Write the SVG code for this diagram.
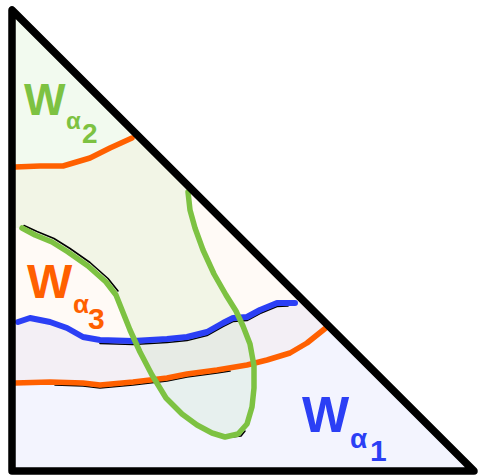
<svg xmlns="http://www.w3.org/2000/svg" width="478" height="475" viewBox="0 0 478 475">
<style>
.ln{fill:none;stroke-linecap:round;stroke-linejoin:round}
.g{stroke:#7dc242;stroke-width:5.5}
.o{stroke:#ff6000;stroke-width:5.5}
.b{stroke:#2b3ff5;stroke-width:6}
.k{stroke:#000;stroke-width:1.6}
.lbl{font-family:"Liberation Sans",Arial,sans-serif;font-weight:bold}
</style>
<defs>
<clipPath id="tri"><polygon points="12,10 12,471 474,471"/></clipPath>
</defs>
<rect width="478" height="475" fill="#fff"/>
<g id="regions" clip-path="url(#tri)">
<path id="region-blue" fill="#3344ee" fill-opacity="0.06" d="M0,322 L18,322 L30,318 L50,322 L67,328 L83,337 L100,340 L133,341 L167,339 L187,337 L207,332 L223,323 L233,318 L247,317 L260,310 L277,303 L297,303 L320,280 L480,280 L480,480 L0,480 Z"/>
<path id="region-orange" fill="#ff9a55" fill-opacity="0.05" d="M0,167 L15,167 L40,166 L63,166 L90,158 L110,148 L132,138 L200,60 L480,60 L480,300 L340,320 L327,327 L307,343 L290,353 L267,360 L247,365 L217,370 L187,374 L167,378 L133,382 L100,385 L83,383 L50,382 L15,383 L0,383 Z"/>
<path id="region-green" fill="#74c64a" fill-opacity="0.09" d="M12,0 L196,178 L188,192 L190,210 L195,228 L203,250 L214,274 L226,295 L236,311 L243,326 L250,344 L254,366 L254,388 L252,407 L247,424 L238,434 L225,437 L212,433 L197,425 L182,414 L166,398 L152,375 L140,352 L130,330 L122,310 L116,295 L106,282 L88,266 L68,252 L52,242 L35,235 L22,228 L0,228 Z"/>
</g>
<g id="connectors">
<path class="ln k" d="M24,225.5 L37,231.5 L54,238.5 L70,248.5 L90,262.5 L108,278.5 L118,291"/>
<path class="ln k" d="M100,343.5 L133,344.5 L167,342.5 L187,340.5 L207,335.5 L223,326.5 L233,321.5 L247,320.5 L260,313.5 L277,306.5 L288,306"/>
<path class="ln k" d="M55,385 L83,386 L100,388 L133,385 L167,381 L187,377 L217,373 L230,371"/>
<path class="ln k" d="M232,437 L241,436 L245,431" stroke-width="2.5"/>
<path id="orange-upper" class="ln o" d="M15,167 L40,166 L63,166 L90,158 L110,148 L132,138"/>
<path id="orange-lower" class="ln o" d="M15,383 L50,382 L83,383 L100,385 L133,382 L167,378 L187,374 L217,370 L247,365 L267,360 L290,353 L307,343 L327,327"/>
<path id="blue-line" class="ln b" d="M18,322 L30,318 L50,322 L67,328 L83,337 L100,340 L133,341 L167,339 L187,337 L207,332 L223,323 L233,318 L247,317 L260,310 L277,303 L295,303"/>
<path id="green-curve" class="ln g" d="M22,228 L35,235 L52,242 L68,252 L88,266 L106,282 L116,295 L122,310 L130,330 L140,352 L152,375 L166,398 L182,414 L197,425 L212,433 L225,437 L238,434 L247,424 L252,407 L254,388 L254,366 L250,344 L243,326 L236,311 L226,295 L214,274 L203,250 L195,228 L190,210 L188,192"/>
</g>
<g id="triangle">
<polygon points="12,10 12,471 474,471" fill="none" stroke="#000" stroke-width="7.5" stroke-linejoin="round"/>
</g>
<g id="label-w2">
<text class="lbl" fill="#7dc242"><tspan x="24" y="115" font-size="44">W</tspan><tspan x="66" y="129" font-size="24">α</tspan><tspan x="82" y="143" font-size="28">2</tspan></text>
</g>
<g id="label-w3">
<text class="lbl" fill="#ff6000"><tspan x="27" y="298" font-size="48">W</tspan><tspan x="73" y="313" font-size="26">α</tspan><tspan x="88" y="329" font-size="30">3</tspan></text>
</g>
<g id="label-w1">
<text class="lbl" fill="#2b3ff5"><tspan x="302" y="432" font-size="50">W</tspan><tspan x="350" y="448" font-size="28">α</tspan><tspan x="370" y="461" font-size="30">1</tspan></text>
</g>
</svg>
